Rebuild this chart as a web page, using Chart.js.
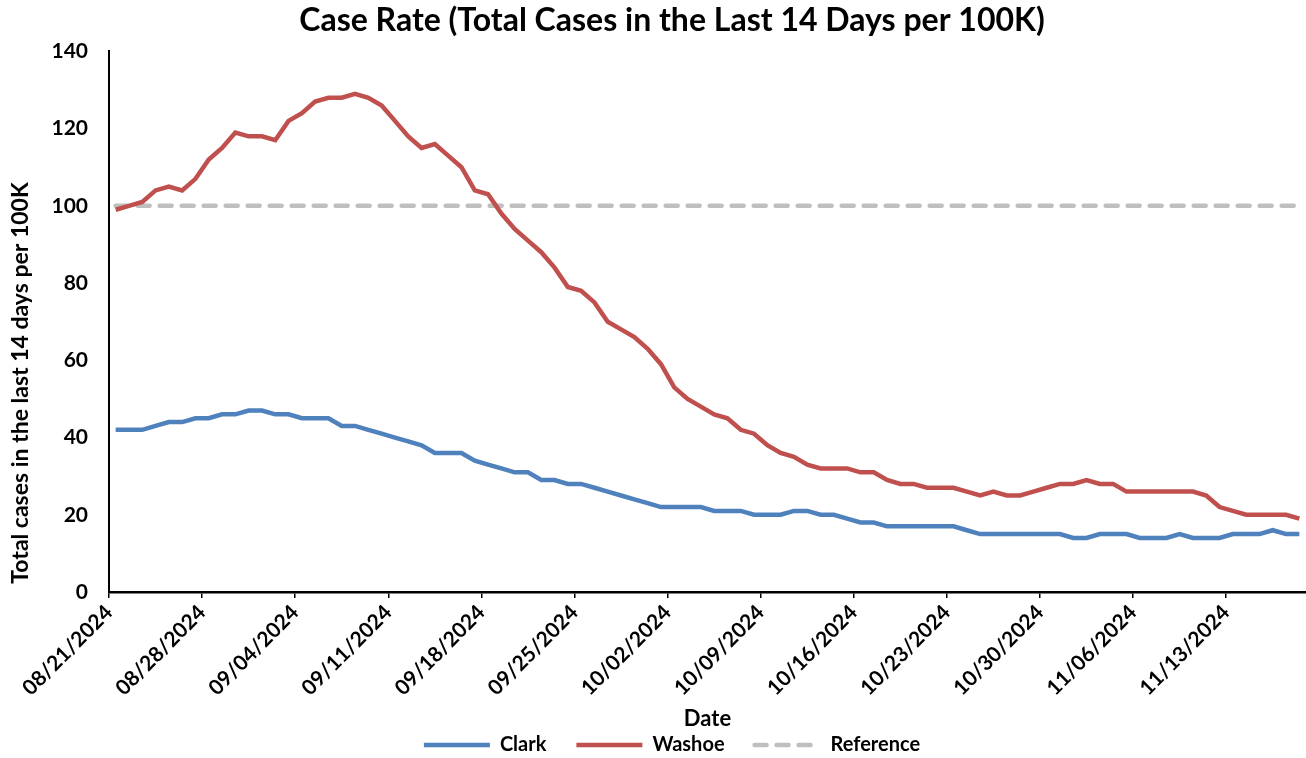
<!DOCTYPE html>
<html>
<head>
<meta charset="utf-8">
<title>Case Rate</title>
<script src="https://cdn.jsdelivr.net/npm/chart.js@4.4.1/dist/chart.umd.min.js"></script>
<style>
  html, body { margin: 0; padding: 0; background: #fff; }
  canvas { display: block; }
</style>
</head>
<body>
<canvas id="caseChart" width="1306" height="758"></canvas>
<script>
// daily values, 08/21/2024 .. 11/18/2024
const tickLabels = ['08/21/2024', '08/28/2024', '09/04/2024', '09/11/2024', '09/18/2024', '09/25/2024',
    '10/02/2024', '10/09/2024', '10/16/2024', '10/23/2024', '10/30/2024', '11/06/2024', '11/13/2024'];
const dayCount = 90;

const clark = [42, 42, 42, 43, 44, 44, 45, 45, 46, 46,
    47, 47, 46, 46, 45, 45, 45, 43, 43, 42,
    41, 40, 39, 38, 36, 36, 36, 34, 33, 32,
    31, 31, 29, 29, 28, 28, 27, 26, 25, 24,
    23, 22, 22, 22, 22, 21, 21, 21, 20, 20,
    20, 21, 21, 20, 20, 19, 18, 18, 17, 17,
    17, 17, 17, 17, 16, 15, 15, 15, 15, 15,
    15, 15, 14, 14, 15, 15, 15, 14, 14, 14,
    15, 14, 14, 14, 15, 15, 15, 16, 15, 15];

const washoe = [99, 100, 101, 104, 105, 104, 107, 112, 115, 119,
    118, 118, 117, 122, 124, 127, 128, 128, 129, 128,
    126, 122, 118, 115, 116, 113, 110, 104, 103, 98,
    94, 91, 88, 84, 79, 78, 75, 70, 68, 66,
    63, 59, 53, 50, 48, 46, 45, 42, 41, 38,
    36, 35, 33, 32, 32, 32, 31, 31, 29, 28,
    28, 27, 27, 27, 26, 25, 26, 25, 25, 26,
    27, 28, 28, 29, 28, 28, 26, 26, 26, 26,
    26, 26, 25, 22, 21, 20, 20, 20, 20, 19];

const referenceLevel = 100;

const yTicks = [0, 20, 40, 60, 80, 100, 120, 140];

const FONT = 'Lato, "Open Sans", sans-serif';

// points sit in the middle of each day slot (Excel "between tick marks")
function toPoints(values) {
    return values.map((v, i) => ({ x: i + 0.5, y: v }));
}
const referenceValues = clark.map(() => referenceLevel);

// y axis title, drawn by hand so it can sit where the original had it
const yTitlePlugin = {
    id: 'yTitle',
    afterDraw(chart) {
        const ctx = chart.ctx;
        ctx.save();
        ctx.translate(21, 383);
        ctx.rotate(-Math.PI / 2);
        ctx.font = 'bold 23px ' + FONT;
        ctx.fillStyle = '#000';
        ctx.textAlign = 'center';
        ctx.textBaseline = 'middle';
        ctx.fillText('Total cases in the last 14 days per 100K', 0, 0);
        ctx.restore();
    }
};

const ctx = document.getElementById('caseChart');
new Chart(ctx, {
    type: 'line',
    data: {
        datasets: [
            {
                label: 'Clark',
                data: toPoints(clark),
                borderColor: '#4F81BD',
                backgroundColor: '#4F81BD',
                borderWidth: 4.5,
                pointRadius: 0,
                tension: 0
            },
            {
                label: 'Washoe',
                data: toPoints(washoe),
                borderColor: '#C0504D',
                backgroundColor: '#C0504D',
                borderWidth: 4.5,
                pointRadius: 0,
                tension: 0
            },
            {
                label: 'Reference',
                data: toPoints(referenceValues),
                borderColor: '#BFBFBF',
                backgroundColor: '#BFBFBF',
                borderWidth: 4.5,
                borderDash: [12, 10],
                borderCapStyle: 'round',
                pointRadius: 0,
                tension: 0
            }
        ]
    },
    options: {
        responsive: false,
        animation: false,
        layout: { padding: { left: 38, right: 0, top: 0, bottom: -7 } },
        plugins: {
            title: {
                display: true,
                text: 'Case Rate (Total Cases in the Last 14 Days per 100K)',
                color: '#000',
                font: { family: FONT, size: 32, weight: 'bold' },
                padding: { top: 1, bottom: 12 }
            },
            legend: {
                position: 'bottom',
                labels: {
                    color: '#000',
                    font: { family: FONT, size: 20, weight: 'bold' },
                    usePointStyle: true,
                    pointStyle: 'line',
                    pointStyleWidth: 66,
                    padding: 30,
                    // point style legend ignores the dataset dash, so copy it over
                    generateLabels: (chart) => {
                        const items = Chart.defaults.plugins.legend.labels.generateLabels(chart);
                        items.forEach(item => {
                            const ds = chart.data.datasets[item.datasetIndex];
                            item.lineDash = ds.borderDash || [];
                            item.lineCap = ds.borderDash ? 'round' : 'butt';
                        });
                        return items;
                    }
                }
            },
            tooltip: { enabled: false }
        },
        scales: {
            x: {
                type: 'linear',
                min: 0,
                max: dayCount,
                afterBuildTicks: (scale) => {
                    scale.ticks = tickLabels.map((_, i) => ({ value: i * 7 }));
                },
                afterFit: (scale) => { scale.height = 113; },
                ticks: {
                    autoSkip: false,
                    maxRotation: 45,
                    minRotation: 45,
                    color: '#000',
                    font: { family: FONT, size: 21, weight: 'bold' },
                    padding: 2,
                    callback: (v) => tickLabels[Math.round(v / 7)]
                },
                grid: {
                    display: true,
                    drawOnChartArea: false,
                    drawTicks: true,
                    tickLength: 6,
                    color: '#000',
                    lineWidth: 1.5
                },
                border: { display: true, color: '#000', width: 2.5 },
                title: {
                    display: true,
                    text: 'Date',
                    color: '#000',
                    font: { family: FONT, size: 22, weight: 'bold' },
                    padding: { top: 0, bottom: -27 }
                }
            },
            y: {
                min: 0,
                max: 140,
                afterBuildTicks: (scale) => {
                    scale.ticks = yTicks.map(v => ({ value: v }));
                },
                afterFit: (scale) => { scale.width = 71; },
                ticks: {
                    color: '#000',
                    font: { family: FONT, size: 21, weight: 'bold' },
                    padding: 21
                },
                grid: { display: false, drawTicks: false },
                border: { display: true, color: '#000', width: 2 }
            }
        }
    },
    plugins: [yTitlePlugin]
});
</script>
</body>
</html>
